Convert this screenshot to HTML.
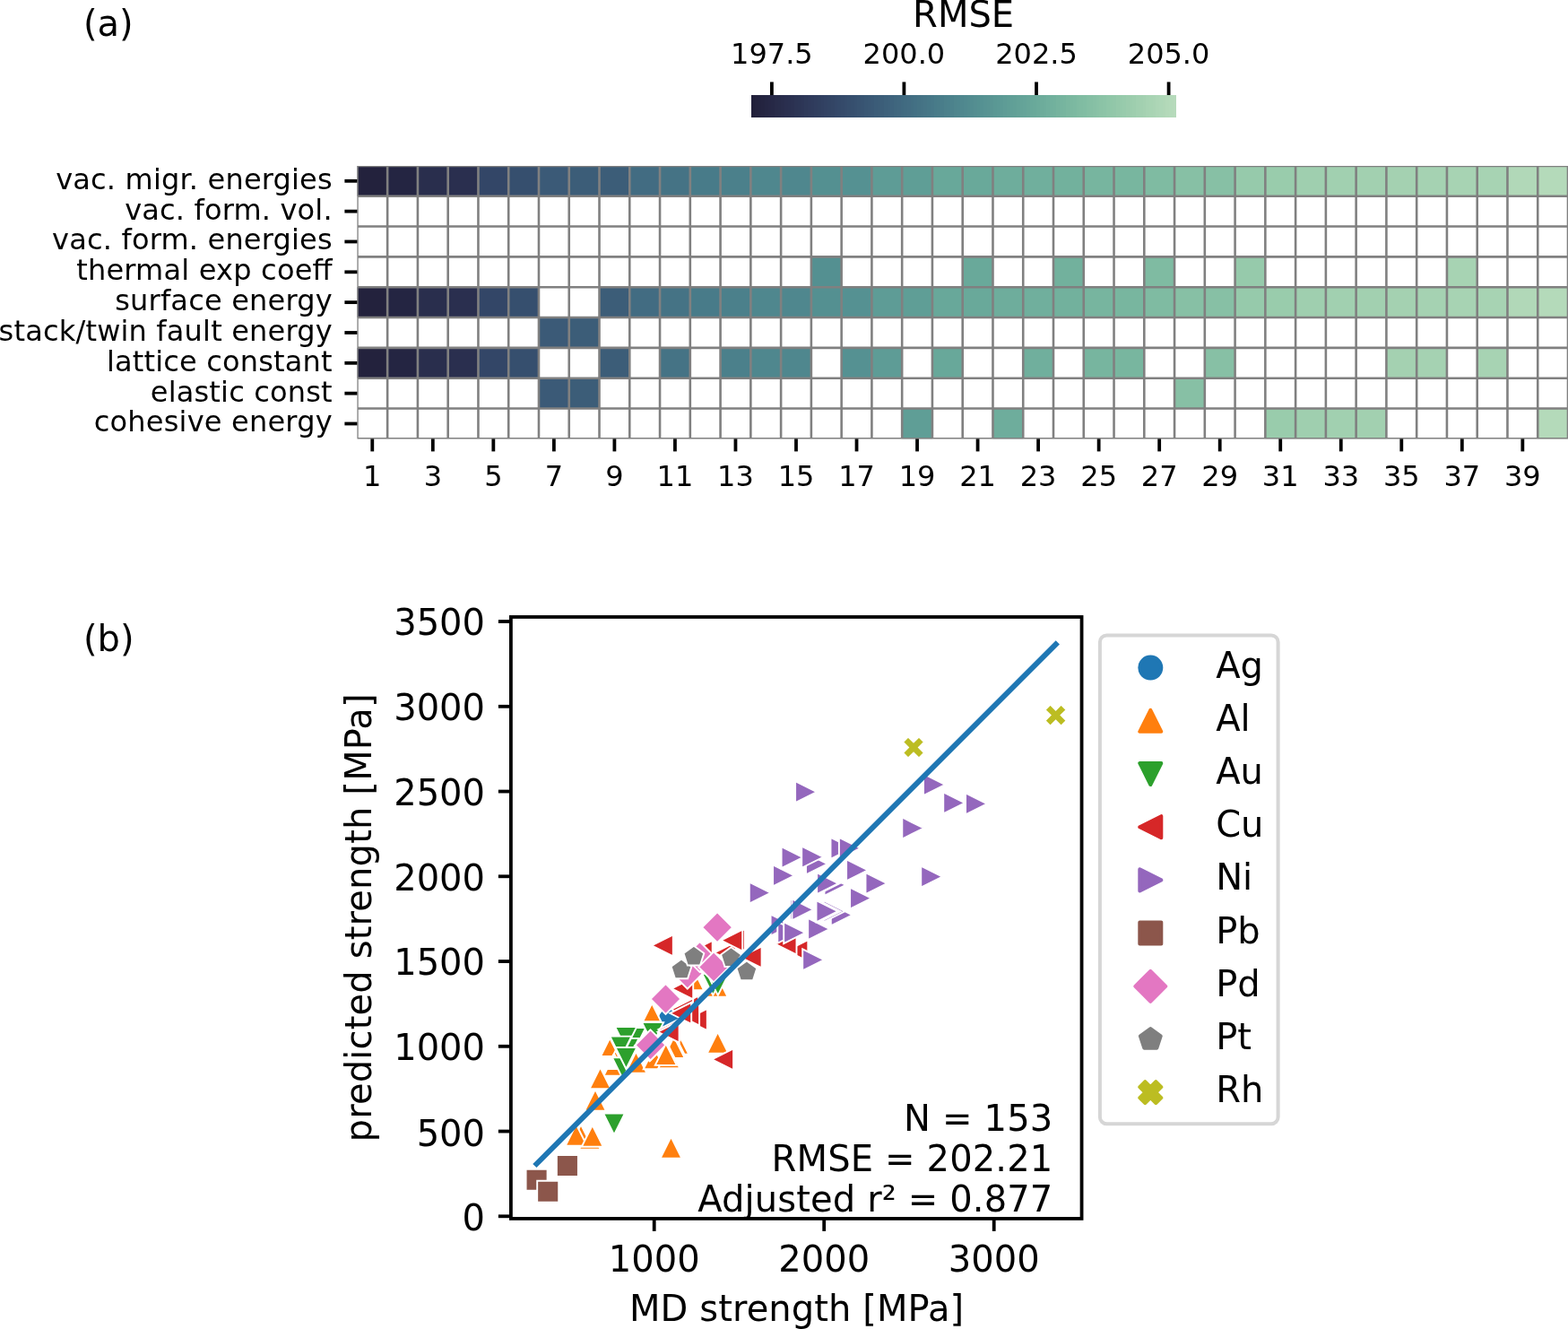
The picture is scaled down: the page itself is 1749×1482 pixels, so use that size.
<!DOCTYPE html>
<html lang="en"><head><meta charset="utf-8"><title>Figure</title>
<style>html,body{margin:0;padding:0;background:#fff}svg{display:block}</style></head>
<body>
<svg width="1749" height="1482" viewBox="0 0 1749 1482" font-family='"DejaVu Sans","Liberation Sans",sans-serif' fill="#000">
<rect x="0" y="0" width="1749" height="1482" fill="#fff"/>
<defs><clipPath id="hclip"><rect x="398.4" y="184.9" width="1350.6" height="304.5"/></clipPath><clipPath id="sclip"><rect x="569.9" y="688.0" width="636.65" height="670.9000000000001"/></clipPath></defs>
<text x="93.0" y="40.2" font-size="40">(a)</text>
<text x="93.0" y="726.2" font-size="40">(b)</text>
<g shape-rendering="crispEdges">
<rect x="838.10" y="106.0" width="4.30" height="24.9" fill="#21203a"/>
<rect x="841.80" y="106.0" width="4.30" height="24.9" fill="#23223d"/>
<rect x="845.50" y="106.0" width="4.30" height="24.9" fill="#23233f"/>
<rect x="849.20" y="106.0" width="4.30" height="24.9" fill="#242440"/>
<rect x="852.89" y="106.0" width="4.30" height="24.9" fill="#252643"/>
<rect x="856.59" y="106.0" width="4.30" height="24.9" fill="#262745"/>
<rect x="860.29" y="106.0" width="4.30" height="24.9" fill="#262846"/>
<rect x="863.99" y="106.0" width="4.30" height="24.9" fill="#282b49"/>
<rect x="867.69" y="106.0" width="4.30" height="24.9" fill="#282c4a"/>
<rect x="871.39" y="106.0" width="4.30" height="24.9" fill="#292d4c"/>
<rect x="875.08" y="106.0" width="4.30" height="24.9" fill="#2a2f4f"/>
<rect x="878.78" y="106.0" width="4.30" height="24.9" fill="#2a3050"/>
<rect x="882.48" y="106.0" width="4.30" height="24.9" fill="#2b3151"/>
<rect x="886.18" y="106.0" width="4.30" height="24.9" fill="#2c3454"/>
<rect x="889.88" y="106.0" width="4.30" height="24.9" fill="#2c3555"/>
<rect x="893.58" y="106.0" width="4.30" height="24.9" fill="#2d3657"/>
<rect x="897.27" y="106.0" width="4.30" height="24.9" fill="#2e3959"/>
<rect x="900.97" y="106.0" width="4.30" height="24.9" fill="#2f3a5b"/>
<rect x="904.67" y="106.0" width="4.30" height="24.9" fill="#2f3b5c"/>
<rect x="908.37" y="106.0" width="4.30" height="24.9" fill="#303d5e"/>
<rect x="912.07" y="106.0" width="4.30" height="24.9" fill="#303f5f"/>
<rect x="915.77" y="106.0" width="4.30" height="24.9" fill="#314061"/>
<rect x="919.47" y="106.0" width="4.30" height="24.9" fill="#324263"/>
<rect x="923.16" y="106.0" width="4.30" height="24.9" fill="#324464"/>
<rect x="926.86" y="106.0" width="4.30" height="24.9" fill="#334565"/>
<rect x="930.56" y="106.0" width="4.30" height="24.9" fill="#344768"/>
<rect x="934.26" y="106.0" width="4.30" height="24.9" fill="#344969"/>
<rect x="937.96" y="106.0" width="4.30" height="24.9" fill="#354a6a"/>
<rect x="941.66" y="106.0" width="4.30" height="24.9" fill="#364c6c"/>
<rect x="945.35" y="106.0" width="4.30" height="24.9" fill="#364e6d"/>
<rect x="949.05" y="106.0" width="4.30" height="24.9" fill="#364f6e"/>
<rect x="952.75" y="106.0" width="4.30" height="24.9" fill="#375170"/>
<rect x="956.45" y="106.0" width="4.30" height="24.9" fill="#385371"/>
<rect x="960.15" y="106.0" width="4.30" height="24.9" fill="#385472"/>
<rect x="963.85" y="106.0" width="4.30" height="24.9" fill="#395774"/>
<rect x="967.55" y="106.0" width="4.30" height="24.9" fill="#3a5875"/>
<rect x="971.24" y="106.0" width="4.30" height="24.9" fill="#3a5976"/>
<rect x="974.94" y="106.0" width="4.30" height="24.9" fill="#3b5c78"/>
<rect x="978.64" y="106.0" width="4.30" height="24.9" fill="#3c5d78"/>
<rect x="982.34" y="106.0" width="4.30" height="24.9" fill="#3c5e79"/>
<rect x="986.04" y="106.0" width="4.30" height="24.9" fill="#3d617b"/>
<rect x="989.74" y="106.0" width="4.30" height="24.9" fill="#3e627c"/>
<rect x="993.43" y="106.0" width="4.30" height="24.9" fill="#3e637d"/>
<rect x="997.13" y="106.0" width="4.30" height="24.9" fill="#3f667e"/>
<rect x="1000.83" y="106.0" width="4.30" height="24.9" fill="#40677f"/>
<rect x="1004.53" y="106.0" width="4.30" height="24.9" fill="#406980"/>
<rect x="1008.23" y="106.0" width="4.30" height="24.9" fill="#416b81"/>
<rect x="1011.93" y="106.0" width="4.30" height="24.9" fill="#426c82"/>
<rect x="1015.62" y="106.0" width="4.30" height="24.9" fill="#426e82"/>
<rect x="1019.32" y="106.0" width="4.30" height="24.9" fill="#437084"/>
<rect x="1023.02" y="106.0" width="4.30" height="24.9" fill="#447284"/>
<rect x="1026.72" y="106.0" width="4.30" height="24.9" fill="#457385"/>
<rect x="1030.42" y="106.0" width="4.30" height="24.9" fill="#467586"/>
<rect x="1034.12" y="106.0" width="4.30" height="24.9" fill="#467787"/>
<rect x="1037.82" y="106.0" width="4.30" height="24.9" fill="#477888"/>
<rect x="1041.51" y="106.0" width="4.30" height="24.9" fill="#487b89"/>
<rect x="1045.21" y="106.0" width="4.30" height="24.9" fill="#497c89"/>
<rect x="1048.91" y="106.0" width="4.30" height="24.9" fill="#497d8a"/>
<rect x="1052.61" y="106.0" width="4.30" height="24.9" fill="#4b808b"/>
<rect x="1056.31" y="106.0" width="4.30" height="24.9" fill="#4b818c"/>
<rect x="1060.01" y="106.0" width="4.30" height="24.9" fill="#4c828c"/>
<rect x="1063.70" y="106.0" width="4.30" height="24.9" fill="#4e858d"/>
<rect x="1067.40" y="106.0" width="4.30" height="24.9" fill="#4e868e"/>
<rect x="1071.10" y="106.0" width="4.30" height="24.9" fill="#4f878e"/>
<rect x="1074.80" y="106.0" width="4.30" height="24.9" fill="#50898f"/>
<rect x="1078.50" y="106.0" width="4.30" height="24.9" fill="#518b8f"/>
<rect x="1082.20" y="106.0" width="4.30" height="24.9" fill="#528c90"/>
<rect x="1085.90" y="106.0" width="4.30" height="24.9" fill="#548e91"/>
<rect x="1089.59" y="106.0" width="4.30" height="24.9" fill="#549091"/>
<rect x="1093.29" y="106.0" width="4.30" height="24.9" fill="#559192"/>
<rect x="1096.99" y="106.0" width="4.30" height="24.9" fill="#579393"/>
<rect x="1100.69" y="106.0" width="4.30" height="24.9" fill="#589493"/>
<rect x="1104.39" y="106.0" width="4.30" height="24.9" fill="#599593"/>
<rect x="1108.09" y="106.0" width="4.30" height="24.9" fill="#5a9894"/>
<rect x="1111.78" y="106.0" width="4.30" height="24.9" fill="#5b9995"/>
<rect x="1115.48" y="106.0" width="4.30" height="24.9" fill="#5c9a95"/>
<rect x="1119.18" y="106.0" width="4.30" height="24.9" fill="#5e9c96"/>
<rect x="1122.88" y="106.0" width="4.30" height="24.9" fill="#5f9e96"/>
<rect x="1126.58" y="106.0" width="4.30" height="24.9" fill="#609f97"/>
<rect x="1130.28" y="106.0" width="4.30" height="24.9" fill="#61a097"/>
<rect x="1133.97" y="106.0" width="4.30" height="24.9" fill="#63a298"/>
<rect x="1137.67" y="106.0" width="4.30" height="24.9" fill="#64a398"/>
<rect x="1141.37" y="106.0" width="4.30" height="24.9" fill="#65a499"/>
<rect x="1145.07" y="106.0" width="4.30" height="24.9" fill="#67a699"/>
<rect x="1148.77" y="106.0" width="4.30" height="24.9" fill="#68a89a"/>
<rect x="1152.47" y="106.0" width="4.30" height="24.9" fill="#69a99a"/>
<rect x="1156.17" y="106.0" width="4.30" height="24.9" fill="#6bab9b"/>
<rect x="1159.86" y="106.0" width="4.30" height="24.9" fill="#6dac9b"/>
<rect x="1163.56" y="106.0" width="4.30" height="24.9" fill="#6ead9c"/>
<rect x="1167.26" y="106.0" width="4.30" height="24.9" fill="#70af9d"/>
<rect x="1170.96" y="106.0" width="4.30" height="24.9" fill="#71b09d"/>
<rect x="1174.66" y="106.0" width="4.30" height="24.9" fill="#72b19d"/>
<rect x="1178.36" y="106.0" width="4.30" height="24.9" fill="#75b39e"/>
<rect x="1182.05" y="106.0" width="4.30" height="24.9" fill="#76b49f"/>
<rect x="1185.75" y="106.0" width="4.30" height="24.9" fill="#77b59f"/>
<rect x="1189.45" y="106.0" width="4.30" height="24.9" fill="#7ab7a0"/>
<rect x="1193.15" y="106.0" width="4.30" height="24.9" fill="#7bb8a0"/>
<rect x="1196.85" y="106.0" width="4.30" height="24.9" fill="#7cb9a1"/>
<rect x="1200.55" y="106.0" width="4.30" height="24.9" fill="#7fbba2"/>
<rect x="1204.25" y="106.0" width="4.30" height="24.9" fill="#80bca2"/>
<rect x="1207.94" y="106.0" width="4.30" height="24.9" fill="#81bda3"/>
<rect x="1211.64" y="106.0" width="4.30" height="24.9" fill="#84bfa4"/>
<rect x="1215.34" y="106.0" width="4.30" height="24.9" fill="#85bfa4"/>
<rect x="1219.04" y="106.0" width="4.30" height="24.9" fill="#87c0a5"/>
<rect x="1222.74" y="106.0" width="4.30" height="24.9" fill="#89c2a6"/>
<rect x="1226.44" y="106.0" width="4.30" height="24.9" fill="#8bc3a6"/>
<rect x="1230.13" y="106.0" width="4.30" height="24.9" fill="#8cc4a7"/>
<rect x="1233.83" y="106.0" width="4.30" height="24.9" fill="#8fc6a8"/>
<rect x="1237.53" y="106.0" width="4.30" height="24.9" fill="#90c7a8"/>
<rect x="1241.23" y="106.0" width="4.30" height="24.9" fill="#92c7a9"/>
<rect x="1244.93" y="106.0" width="4.30" height="24.9" fill="#95c9aa"/>
<rect x="1248.63" y="106.0" width="4.30" height="24.9" fill="#96caab"/>
<rect x="1252.33" y="106.0" width="4.30" height="24.9" fill="#98cbac"/>
<rect x="1256.02" y="106.0" width="4.30" height="24.9" fill="#9bccad"/>
<rect x="1259.72" y="106.0" width="4.30" height="24.9" fill="#9ccdad"/>
<rect x="1263.42" y="106.0" width="4.30" height="24.9" fill="#9eceae"/>
<rect x="1267.12" y="106.0" width="4.30" height="24.9" fill="#a1d0b0"/>
<rect x="1270.82" y="106.0" width="4.30" height="24.9" fill="#a2d0b0"/>
<rect x="1274.52" y="106.0" width="4.30" height="24.9" fill="#a4d1b1"/>
<rect x="1278.21" y="106.0" width="4.30" height="24.9" fill="#a7d3b3"/>
<rect x="1281.91" y="106.0" width="4.30" height="24.9" fill="#a8d4b3"/>
<rect x="1285.61" y="106.0" width="4.30" height="24.9" fill="#aad4b4"/>
<rect x="1289.31" y="106.0" width="4.30" height="24.9" fill="#add6b6"/>
<rect x="1293.01" y="106.0" width="4.30" height="24.9" fill="#aed7b7"/>
<rect x="1296.71" y="106.0" width="4.30" height="24.9" fill="#b0d7b7"/>
<rect x="1300.40" y="106.0" width="4.30" height="24.9" fill="#b3d9b9"/>
<rect x="1304.10" y="106.0" width="4.30" height="24.9" fill="#b4daba"/>
<rect x="1307.80" y="106.0" width="3.70" height="24.9" fill="#b6dabb"/>
</g>
<text x="1074.6" y="30.0" font-size="40" text-anchor="middle">RMSE</text>
<line x1="860.9" x2="860.9" y1="91.4" y2="106" stroke="#000" stroke-width="3.8"/>
<text x="860.9" y="71.3" font-size="32" text-anchor="middle">197.5</text>
<line x1="1008.4" x2="1008.4" y1="91.4" y2="106" stroke="#000" stroke-width="3.8"/>
<text x="1008.4" y="71.3" font-size="32" text-anchor="middle">200.0</text>
<line x1="1156.0" x2="1156.0" y1="91.4" y2="106" stroke="#000" stroke-width="3.8"/>
<text x="1156.0" y="71.3" font-size="32" text-anchor="middle">202.5</text>
<line x1="1303.6" x2="1303.6" y1="91.4" y2="106" stroke="#000" stroke-width="3.8"/>
<text x="1303.6" y="71.3" font-size="32" text-anchor="middle">205.0</text>
<g clip-path="url(#hclip)">
<rect x="398.40" y="184.90" width="33.77" height="33.83" fill="#23223d"/>
<rect x="432.16" y="184.90" width="33.77" height="33.83" fill="#242542"/>
<rect x="465.93" y="184.90" width="33.77" height="33.83" fill="#292e4d"/>
<rect x="499.69" y="184.90" width="33.77" height="33.83" fill="#2a2f4f"/>
<rect x="533.46" y="184.90" width="33.77" height="33.83" fill="#334667"/>
<rect x="567.22" y="184.90" width="33.77" height="33.83" fill="#364f6e"/>
<rect x="600.99" y="184.90" width="33.77" height="33.83" fill="#3b5a77"/>
<rect x="634.75" y="184.90" width="33.77" height="33.83" fill="#3c5d78"/>
<rect x="668.52" y="184.90" width="33.77" height="33.83" fill="#3c5d78"/>
<rect x="702.28" y="184.90" width="33.77" height="33.83" fill="#426c82"/>
<rect x="736.05" y="184.90" width="33.77" height="33.83" fill="#457385"/>
<rect x="769.82" y="184.90" width="33.77" height="33.83" fill="#487b89"/>
<rect x="803.58" y="184.90" width="33.77" height="33.83" fill="#4b808b"/>
<rect x="837.35" y="184.90" width="33.77" height="33.83" fill="#4f878e"/>
<rect x="871.11" y="184.90" width="33.77" height="33.83" fill="#4f878e"/>
<rect x="904.88" y="184.90" width="33.77" height="33.83" fill="#549091"/>
<rect x="938.64" y="184.90" width="33.77" height="33.83" fill="#559192"/>
<rect x="972.40" y="184.90" width="33.77" height="33.83" fill="#5e9c96"/>
<rect x="1006.17" y="184.90" width="33.77" height="33.83" fill="#5f9e96"/>
<rect x="1039.93" y="184.90" width="33.77" height="33.83" fill="#68a89a"/>
<rect x="1073.70" y="184.90" width="33.77" height="33.83" fill="#69a99a"/>
<rect x="1107.47" y="184.90" width="33.77" height="33.83" fill="#6ead9c"/>
<rect x="1141.23" y="184.90" width="33.77" height="33.83" fill="#70af9d"/>
<rect x="1174.99" y="184.90" width="33.77" height="33.83" fill="#72b19d"/>
<rect x="1208.76" y="184.90" width="33.77" height="33.83" fill="#77b59f"/>
<rect x="1242.53" y="184.90" width="33.77" height="33.83" fill="#78b69f"/>
<rect x="1276.29" y="184.90" width="33.77" height="33.83" fill="#7fbba2"/>
<rect x="1310.05" y="184.90" width="33.77" height="33.83" fill="#87c0a5"/>
<rect x="1343.82" y="184.90" width="33.77" height="33.83" fill="#87c0a5"/>
<rect x="1377.59" y="184.90" width="33.77" height="33.83" fill="#96caab"/>
<rect x="1411.35" y="184.90" width="33.77" height="33.83" fill="#99ccac"/>
<rect x="1445.11" y="184.90" width="33.77" height="33.83" fill="#9fcfaf"/>
<rect x="1478.88" y="184.90" width="33.77" height="33.83" fill="#a1d0b0"/>
<rect x="1512.64" y="184.90" width="33.77" height="33.83" fill="#a2d0b0"/>
<rect x="1546.41" y="184.90" width="33.77" height="33.83" fill="#a4d1b1"/>
<rect x="1580.18" y="184.90" width="33.77" height="33.83" fill="#a5d2b2"/>
<rect x="1613.94" y="184.90" width="33.77" height="33.83" fill="#a7d3b3"/>
<rect x="1647.70" y="184.90" width="33.77" height="33.83" fill="#a7d3b3"/>
<rect x="1681.47" y="184.90" width="33.77" height="33.83" fill="#b1d8b8"/>
<rect x="1715.24" y="184.90" width="33.77" height="33.83" fill="#b4daba"/>
<rect x="904.88" y="286.40" width="33.77" height="33.83" fill="#549091"/>
<rect x="1073.70" y="286.40" width="33.77" height="33.83" fill="#69a99a"/>
<rect x="1174.99" y="286.40" width="33.77" height="33.83" fill="#72b19d"/>
<rect x="1276.29" y="286.40" width="33.77" height="33.83" fill="#7fbba2"/>
<rect x="1377.59" y="286.40" width="33.77" height="33.83" fill="#96caab"/>
<rect x="1613.94" y="286.40" width="33.77" height="33.83" fill="#a7d3b3"/>
<rect x="398.40" y="320.23" width="33.77" height="33.83" fill="#23223d"/>
<rect x="432.16" y="320.23" width="33.77" height="33.83" fill="#242542"/>
<rect x="465.93" y="320.23" width="33.77" height="33.83" fill="#292e4d"/>
<rect x="499.69" y="320.23" width="33.77" height="33.83" fill="#2a2f4f"/>
<rect x="533.46" y="320.23" width="33.77" height="33.83" fill="#334667"/>
<rect x="567.22" y="320.23" width="33.77" height="33.83" fill="#364f6e"/>
<rect x="668.52" y="320.23" width="33.77" height="33.83" fill="#3c5d78"/>
<rect x="702.28" y="320.23" width="33.77" height="33.83" fill="#426c82"/>
<rect x="736.05" y="320.23" width="33.77" height="33.83" fill="#457385"/>
<rect x="769.82" y="320.23" width="33.77" height="33.83" fill="#487b89"/>
<rect x="803.58" y="320.23" width="33.77" height="33.83" fill="#4b808b"/>
<rect x="837.35" y="320.23" width="33.77" height="33.83" fill="#4f878e"/>
<rect x="871.11" y="320.23" width="33.77" height="33.83" fill="#4f878e"/>
<rect x="904.88" y="320.23" width="33.77" height="33.83" fill="#549091"/>
<rect x="938.64" y="320.23" width="33.77" height="33.83" fill="#559192"/>
<rect x="972.40" y="320.23" width="33.77" height="33.83" fill="#5e9c96"/>
<rect x="1006.17" y="320.23" width="33.77" height="33.83" fill="#5f9e96"/>
<rect x="1039.93" y="320.23" width="33.77" height="33.83" fill="#68a89a"/>
<rect x="1073.70" y="320.23" width="33.77" height="33.83" fill="#69a99a"/>
<rect x="1107.47" y="320.23" width="33.77" height="33.83" fill="#6ead9c"/>
<rect x="1141.23" y="320.23" width="33.77" height="33.83" fill="#70af9d"/>
<rect x="1174.99" y="320.23" width="33.77" height="33.83" fill="#72b19d"/>
<rect x="1208.76" y="320.23" width="33.77" height="33.83" fill="#77b59f"/>
<rect x="1242.53" y="320.23" width="33.77" height="33.83" fill="#78b69f"/>
<rect x="1276.29" y="320.23" width="33.77" height="33.83" fill="#7fbba2"/>
<rect x="1310.05" y="320.23" width="33.77" height="33.83" fill="#87c0a5"/>
<rect x="1343.82" y="320.23" width="33.77" height="33.83" fill="#87c0a5"/>
<rect x="1377.59" y="320.23" width="33.77" height="33.83" fill="#96caab"/>
<rect x="1411.35" y="320.23" width="33.77" height="33.83" fill="#99ccac"/>
<rect x="1445.11" y="320.23" width="33.77" height="33.83" fill="#9fcfaf"/>
<rect x="1478.88" y="320.23" width="33.77" height="33.83" fill="#a1d0b0"/>
<rect x="1512.64" y="320.23" width="33.77" height="33.83" fill="#a2d0b0"/>
<rect x="1546.41" y="320.23" width="33.77" height="33.83" fill="#a4d1b1"/>
<rect x="1580.18" y="320.23" width="33.77" height="33.83" fill="#a5d2b2"/>
<rect x="1613.94" y="320.23" width="33.77" height="33.83" fill="#a7d3b3"/>
<rect x="1647.70" y="320.23" width="33.77" height="33.83" fill="#a7d3b3"/>
<rect x="1681.47" y="320.23" width="33.77" height="33.83" fill="#b1d8b8"/>
<rect x="1715.24" y="320.23" width="33.77" height="33.83" fill="#b4daba"/>
<rect x="600.99" y="354.07" width="33.77" height="33.83" fill="#3b5a77"/>
<rect x="634.75" y="354.07" width="33.77" height="33.83" fill="#3c5d78"/>
<rect x="398.40" y="387.90" width="33.77" height="33.83" fill="#23223d"/>
<rect x="432.16" y="387.90" width="33.77" height="33.83" fill="#242542"/>
<rect x="465.93" y="387.90" width="33.77" height="33.83" fill="#292e4d"/>
<rect x="499.69" y="387.90" width="33.77" height="33.83" fill="#2a2f4f"/>
<rect x="533.46" y="387.90" width="33.77" height="33.83" fill="#334667"/>
<rect x="567.22" y="387.90" width="33.77" height="33.83" fill="#364f6e"/>
<rect x="668.52" y="387.90" width="33.77" height="33.83" fill="#3c5d78"/>
<rect x="736.05" y="387.90" width="33.77" height="33.83" fill="#457385"/>
<rect x="803.58" y="387.90" width="33.77" height="33.83" fill="#4b808b"/>
<rect x="837.35" y="387.90" width="33.77" height="33.83" fill="#4f878e"/>
<rect x="871.11" y="387.90" width="33.77" height="33.83" fill="#4f878e"/>
<rect x="938.64" y="387.90" width="33.77" height="33.83" fill="#559192"/>
<rect x="972.40" y="387.90" width="33.77" height="33.83" fill="#5e9c96"/>
<rect x="1039.93" y="387.90" width="33.77" height="33.83" fill="#68a89a"/>
<rect x="1141.23" y="387.90" width="33.77" height="33.83" fill="#70af9d"/>
<rect x="1208.76" y="387.90" width="33.77" height="33.83" fill="#77b59f"/>
<rect x="1242.53" y="387.90" width="33.77" height="33.83" fill="#78b69f"/>
<rect x="1343.82" y="387.90" width="33.77" height="33.83" fill="#87c0a5"/>
<rect x="1546.41" y="387.90" width="33.77" height="33.83" fill="#a4d1b1"/>
<rect x="1580.18" y="387.90" width="33.77" height="33.83" fill="#a5d2b2"/>
<rect x="1647.70" y="387.90" width="33.77" height="33.83" fill="#a7d3b3"/>
<rect x="600.99" y="421.73" width="33.77" height="33.83" fill="#3b5a77"/>
<rect x="634.75" y="421.73" width="33.77" height="33.83" fill="#3c5d78"/>
<rect x="1310.05" y="421.73" width="33.77" height="33.83" fill="#87c0a5"/>
<rect x="1006.17" y="455.57" width="33.77" height="33.83" fill="#5f9e96"/>
<rect x="1107.47" y="455.57" width="33.77" height="33.83" fill="#6ead9c"/>
<rect x="1411.35" y="455.57" width="33.77" height="33.83" fill="#99ccac"/>
<rect x="1445.11" y="455.57" width="33.77" height="33.83" fill="#9fcfaf"/>
<rect x="1478.88" y="455.57" width="33.77" height="33.83" fill="#a1d0b0"/>
<rect x="1512.64" y="455.57" width="33.77" height="33.83" fill="#a2d0b0"/>
<rect x="1715.24" y="455.57" width="33.77" height="33.83" fill="#b4daba"/>
<path d="M398.40 184.9V489.4M432.16 184.9V489.4M465.93 184.9V489.4M499.69 184.9V489.4M533.46 184.9V489.4M567.22 184.9V489.4M600.99 184.9V489.4M634.75 184.9V489.4M668.52 184.9V489.4M702.28 184.9V489.4M736.05 184.9V489.4M769.82 184.9V489.4M803.58 184.9V489.4M837.35 184.9V489.4M871.11 184.9V489.4M904.88 184.9V489.4M938.64 184.9V489.4M972.40 184.9V489.4M1006.17 184.9V489.4M1039.93 184.9V489.4M1073.70 184.9V489.4M1107.47 184.9V489.4M1141.23 184.9V489.4M1174.99 184.9V489.4M1208.76 184.9V489.4M1242.53 184.9V489.4M1276.29 184.9V489.4M1310.05 184.9V489.4M1343.82 184.9V489.4M1377.59 184.9V489.4M1411.35 184.9V489.4M1445.11 184.9V489.4M1478.88 184.9V489.4M1512.64 184.9V489.4M1546.41 184.9V489.4M1580.18 184.9V489.4M1613.94 184.9V489.4M1647.70 184.9V489.4M1681.47 184.9V489.4M1715.24 184.9V489.4M1749.00 184.9V489.4M398.4 184.90H1749.0M398.4 218.73H1749.0M398.4 252.57H1749.0M398.4 286.40H1749.0M398.4 320.23H1749.0M398.4 354.07H1749.0M398.4 387.90H1749.0M398.4 421.73H1749.0M398.4 455.57H1749.0M398.4 489.40H1749.0" stroke="#808080" stroke-width="2.6" fill="none"/>
</g>
<line x1="384.40" x2="398.4" y1="201.82" y2="201.82" stroke="#000" stroke-width="3.8"/>
<text x="370.6" y="210.82" font-size="32" text-anchor="end" textLength="308.4" lengthAdjust="spacing">vac. migr. energies</text>
<line x1="384.40" x2="398.4" y1="235.65" y2="235.65" stroke="#000" stroke-width="3.8"/>
<text x="370.6" y="244.65" font-size="32" text-anchor="end" textLength="231.4" lengthAdjust="spacing">vac. form. vol.</text>
<line x1="384.40" x2="398.4" y1="269.48" y2="269.48" stroke="#000" stroke-width="3.8"/>
<text x="370.6" y="278.48" font-size="32" text-anchor="end" textLength="312.5" lengthAdjust="spacing">vac. form. energies</text>
<line x1="384.40" x2="398.4" y1="303.32" y2="303.32" stroke="#000" stroke-width="3.8"/>
<text x="370.6" y="312.32" font-size="32" text-anchor="end" textLength="285.4" lengthAdjust="spacing">thermal exp coeff</text>
<line x1="384.40" x2="398.4" y1="337.15" y2="337.15" stroke="#000" stroke-width="3.8"/>
<text x="370.6" y="346.15" font-size="32" text-anchor="end" textLength="242.4" lengthAdjust="spacing">surface energy</text>
<line x1="384.40" x2="398.4" y1="370.98" y2="370.98" stroke="#000" stroke-width="3.8"/>
<text x="370.6" y="379.98" font-size="32" text-anchor="end" textLength="372.0" lengthAdjust="spacing">stack/twin fault energy</text>
<line x1="384.40" x2="398.4" y1="404.82" y2="404.82" stroke="#000" stroke-width="3.8"/>
<text x="370.6" y="413.82" font-size="32" text-anchor="end" textLength="251.6" lengthAdjust="spacing">lattice constant</text>
<line x1="384.40" x2="398.4" y1="438.65" y2="438.65" stroke="#000" stroke-width="3.8"/>
<text x="370.6" y="447.65" font-size="32" text-anchor="end" textLength="202.8" lengthAdjust="spacing">elastic const</text>
<line x1="384.40" x2="398.4" y1="472.48" y2="472.48" stroke="#000" stroke-width="3.8"/>
<text x="370.6" y="481.48" font-size="32" text-anchor="end" textLength="265.8" lengthAdjust="spacing">cohesive energy</text>
<line x1="415.28" x2="415.28" y1="489.4" y2="503.40" stroke="#000" stroke-width="3.8"/>
<text x="415.28" y="542.0" font-size="32" text-anchor="middle">1</text>
<line x1="482.81" x2="482.81" y1="489.4" y2="503.40" stroke="#000" stroke-width="3.8"/>
<text x="482.81" y="542.0" font-size="32" text-anchor="middle">3</text>
<line x1="550.34" x2="550.34" y1="489.4" y2="503.40" stroke="#000" stroke-width="3.8"/>
<text x="550.34" y="542.0" font-size="32" text-anchor="middle">5</text>
<line x1="617.87" x2="617.87" y1="489.4" y2="503.40" stroke="#000" stroke-width="3.8"/>
<text x="617.87" y="542.0" font-size="32" text-anchor="middle">7</text>
<line x1="685.40" x2="685.40" y1="489.4" y2="503.40" stroke="#000" stroke-width="3.8"/>
<text x="685.40" y="542.0" font-size="32" text-anchor="middle">9</text>
<line x1="752.93" x2="752.93" y1="489.4" y2="503.40" stroke="#000" stroke-width="3.8"/>
<text x="752.93" y="542.0" font-size="32" text-anchor="middle">11</text>
<line x1="820.46" x2="820.46" y1="489.4" y2="503.40" stroke="#000" stroke-width="3.8"/>
<text x="820.46" y="542.0" font-size="32" text-anchor="middle">13</text>
<line x1="887.99" x2="887.99" y1="489.4" y2="503.40" stroke="#000" stroke-width="3.8"/>
<text x="887.99" y="542.0" font-size="32" text-anchor="middle">15</text>
<line x1="955.52" x2="955.52" y1="489.4" y2="503.40" stroke="#000" stroke-width="3.8"/>
<text x="955.52" y="542.0" font-size="32" text-anchor="middle">17</text>
<line x1="1023.05" x2="1023.05" y1="489.4" y2="503.40" stroke="#000" stroke-width="3.8"/>
<text x="1023.05" y="542.0" font-size="32" text-anchor="middle">19</text>
<line x1="1090.58" x2="1090.58" y1="489.4" y2="503.40" stroke="#000" stroke-width="3.8"/>
<text x="1090.58" y="542.0" font-size="32" text-anchor="middle">21</text>
<line x1="1158.11" x2="1158.11" y1="489.4" y2="503.40" stroke="#000" stroke-width="3.8"/>
<text x="1158.11" y="542.0" font-size="32" text-anchor="middle">23</text>
<line x1="1225.64" x2="1225.64" y1="489.4" y2="503.40" stroke="#000" stroke-width="3.8"/>
<text x="1225.64" y="542.0" font-size="32" text-anchor="middle">25</text>
<line x1="1293.17" x2="1293.17" y1="489.4" y2="503.40" stroke="#000" stroke-width="3.8"/>
<text x="1293.17" y="542.0" font-size="32" text-anchor="middle">27</text>
<line x1="1360.70" x2="1360.70" y1="489.4" y2="503.40" stroke="#000" stroke-width="3.8"/>
<text x="1360.70" y="542.0" font-size="32" text-anchor="middle">29</text>
<line x1="1428.23" x2="1428.23" y1="489.4" y2="503.40" stroke="#000" stroke-width="3.8"/>
<text x="1428.23" y="542.0" font-size="32" text-anchor="middle">31</text>
<line x1="1495.76" x2="1495.76" y1="489.4" y2="503.40" stroke="#000" stroke-width="3.8"/>
<text x="1495.76" y="542.0" font-size="32" text-anchor="middle">33</text>
<line x1="1563.29" x2="1563.29" y1="489.4" y2="503.40" stroke="#000" stroke-width="3.8"/>
<text x="1563.29" y="542.0" font-size="32" text-anchor="middle">35</text>
<line x1="1630.82" x2="1630.82" y1="489.4" y2="503.40" stroke="#000" stroke-width="3.8"/>
<text x="1630.82" y="542.0" font-size="32" text-anchor="middle">37</text>
<line x1="1698.35" x2="1698.35" y1="489.4" y2="503.40" stroke="#000" stroke-width="3.8"/>
<text x="1698.35" y="542.0" font-size="32" text-anchor="middle">39</text>
<g clip-path="url(#sclip)">
<circle cx="746.00" cy="1136.00" r="12.00" fill="#1f77b4" stroke="#fff" stroke-width="1.92"/>
<path d="M586.60 1303.80L610.60 1303.80L610.60 1327.80L586.60 1327.80Z" fill="#8c564b" stroke="#fff" stroke-width="1.92" stroke-linejoin="miter"/>
<path d="M599.20 1316.80L623.20 1316.80L623.20 1340.80L599.20 1340.80Z" fill="#8c564b" stroke="#fff" stroke-width="1.92" stroke-linejoin="miter"/>
<path d="M620.90 1288.00L644.90 1288.00L644.90 1312.00L620.90 1312.00Z" fill="#8c564b" stroke="#fff" stroke-width="1.92" stroke-linejoin="miter"/>
<path d="M657.90 1257.80L645.90 1281.80L669.90 1281.80Z" fill="#ff7f0e" stroke="#fff" stroke-width="1.92" stroke-linejoin="miter"/>
<path d="M648.00 1254.00L636.00 1278.00L660.00 1278.00Z" fill="#ff7f0e" stroke="#fff" stroke-width="1.92" stroke-linejoin="miter"/>
<path d="M642.70 1253.70L630.70 1277.70L654.70 1277.70Z" fill="#ff7f0e" stroke="#fff" stroke-width="1.92" stroke-linejoin="miter"/>
<path d="M660.80 1254.70L648.80 1278.70L672.80 1278.70Z" fill="#ff7f0e" stroke="#fff" stroke-width="1.92" stroke-linejoin="miter"/>
<path d="M664.00 1214.70L652.00 1238.70L676.00 1238.70Z" fill="#ff7f0e" stroke="#fff" stroke-width="1.92" stroke-linejoin="miter"/>
<path d="M685.00 1265.50L673.00 1241.50L697.00 1241.50Z" fill="#2ca02c" stroke="#fff" stroke-width="1.92" stroke-linejoin="miter"/>
<path d="M748.50 1267.70L736.50 1291.70L760.50 1291.70Z" fill="#ff7f0e" stroke="#fff" stroke-width="1.92" stroke-linejoin="miter"/>
<path d="M680.20 1157.55L669.95 1178.05L690.45 1178.05Z" fill="#ff7f0e" stroke="#fff" stroke-width="1.92" stroke-linejoin="miter"/>
<path d="M708.30 1170.00L696.30 1146.00L720.30 1146.00Z" fill="#2ca02c" stroke="#fff" stroke-width="1.92" stroke-linejoin="miter"/>
<path d="M700.60 1181.90L688.60 1157.90L712.60 1157.90Z" fill="#2ca02c" stroke="#fff" stroke-width="1.92" stroke-linejoin="miter"/>
<path d="M698.20 1169.10L686.20 1145.10L710.20 1145.10Z" fill="#2ca02c" stroke="#fff" stroke-width="1.92" stroke-linejoin="miter"/>
<path d="M692.40 1179.60L680.40 1155.60L704.40 1155.60Z" fill="#2ca02c" stroke="#fff" stroke-width="1.92" stroke-linejoin="miter"/>
<path d="M686.60 1171.50L674.60 1195.50L698.60 1195.50Z" fill="#ff7f0e" stroke="#fff" stroke-width="1.92" stroke-linejoin="miter"/>
<path d="M685.30 1175.70L673.30 1199.70L697.30 1199.70Z" fill="#ff7f0e" stroke="#fff" stroke-width="1.92" stroke-linejoin="miter"/>
<path d="M683.60 1177.10L676.10 1192.10L691.10 1192.10Z" fill="#fff" stroke="#fff" stroke-width="1.92" stroke-linejoin="miter"/>
<path d="M694.80 1203.20L682.80 1179.20L706.80 1179.20Z" fill="#2ca02c" stroke="#fff" stroke-width="1.92" stroke-linejoin="miter"/>
<path d="M698.40 1192.00L686.40 1168.00L710.40 1168.00Z" fill="#2ca02c" stroke="#fff" stroke-width="1.92" stroke-linejoin="miter"/>
<path d="M709.50 1172.80L697.50 1196.80L721.50 1196.80Z" fill="#ff7f0e" stroke="#fff" stroke-width="1.92" stroke-linejoin="miter"/>
<path d="M669.50 1190.30L657.50 1214.30L681.50 1214.30Z" fill="#ff7f0e" stroke="#fff" stroke-width="1.92" stroke-linejoin="miter"/>
<path d="M727.20 1118.75L716.95 1139.25L737.45 1139.25Z" fill="#ff7f0e" stroke="#fff" stroke-width="1.92" stroke-linejoin="miter"/>
<path d="M728.10 1164.10L716.10 1140.10L740.10 1140.10Z" fill="#2ca02c" stroke="#fff" stroke-width="1.92" stroke-linejoin="miter"/>
<path d="M729.70 1168.20L717.70 1192.20L741.70 1192.20Z" fill="#ff7f0e" stroke="#fff" stroke-width="1.92" stroke-linejoin="miter"/>
<path d="M724.70 1149.33L741.67 1166.30L724.70 1183.27L707.73 1166.30Z" fill="#e377c2" stroke="#fff" stroke-width="1.92" stroke-linejoin="miter"/>
<path d="M725.60 1148.43L742.57 1165.40L725.60 1182.37L708.63 1165.40Z" fill="#e377c2" stroke="#fff" stroke-width="1.92" stroke-linejoin="miter"/>
<path d="M756.40 1151.80L744.40 1175.80L768.40 1175.80Z" fill="#ff7f0e" stroke="#fff" stroke-width="1.92" stroke-linejoin="miter"/>
<path d="M753.30 1155.60L741.30 1179.60L765.30 1179.60Z" fill="#ff7f0e" stroke="#fff" stroke-width="1.92" stroke-linejoin="miter"/>
<path d="M751.80 1156.00L739.80 1180.00L763.80 1180.00Z" fill="#ff7f0e" stroke="#fff" stroke-width="1.92" stroke-linejoin="miter"/>
<path d="M746.30 1167.30L734.30 1191.30L758.30 1191.30Z" fill="#ff7f0e" stroke="#fff" stroke-width="1.92" stroke-linejoin="miter"/>
<path d="M742.80 1163.90L730.80 1187.90L754.80 1187.90Z" fill="#ff7f0e" stroke="#fff" stroke-width="1.92" stroke-linejoin="miter"/>
<path d="M734.60 1147.90L758.60 1135.90L758.60 1159.90Z" fill="#d62728" stroke="#fff" stroke-width="1.92" stroke-linejoin="miter"/>
<path d="M733.60 1150.65L757.60 1138.65L757.60 1162.65Z" fill="#d62728" stroke="#fff" stroke-width="1.92" stroke-linejoin="miter"/>
<path d="M800.60 1150.70L788.60 1174.70L812.60 1174.70Z" fill="#ff7f0e" stroke="#fff" stroke-width="1.92" stroke-linejoin="miter"/>
<path d="M794.10 1181.30L818.10 1169.30L818.10 1193.30Z" fill="#d62728" stroke="#fff" stroke-width="1.92" stroke-linejoin="miter"/>
<path d="M757.00 1120.50L781.00 1108.50L781.00 1132.50Z" fill="#d62728" stroke="#fff" stroke-width="1.92" stroke-linejoin="miter"/>
<path d="M755.00 1122.70L779.00 1110.70L779.00 1134.70Z" fill="#d62728" stroke="#fff" stroke-width="1.92" stroke-linejoin="miter"/>
<path d="M749.00 1125.50L773.00 1113.50L773.00 1137.50Z" fill="#d62728" stroke="#fff" stroke-width="1.92" stroke-linejoin="miter"/>
<path d="M764.80 1137.00L788.80 1125.00L788.80 1149.00Z" fill="#d62728" stroke="#fff" stroke-width="1.92" stroke-linejoin="miter"/>
<path d="M756.10 1131.50L780.10 1119.50L780.10 1143.50Z" fill="#d62728" stroke="#fff" stroke-width="1.92" stroke-linejoin="miter"/>
<path d="M747.20 1129.80L771.20 1117.80L771.20 1141.80Z" fill="#d62728" stroke="#fff" stroke-width="1.92" stroke-linejoin="miter"/>
<path d="M742.50 1097.03L759.47 1114.00L742.50 1130.97L725.53 1114.00Z" fill="#e377c2" stroke="#fff" stroke-width="1.92" stroke-linejoin="miter"/>
<path d="M773.00 1080.10L761.00 1104.10L785.00 1104.10Z" fill="#ff7f0e" stroke="#fff" stroke-width="1.92" stroke-linejoin="miter"/>
<path d="M799.60 1087.65L787.60 1111.65L811.60 1111.65Z" fill="#ff7f0e" stroke="#fff" stroke-width="1.92" stroke-linejoin="miter"/>
<path d="M795.30 1109.85L783.30 1085.85L807.30 1085.85Z" fill="#2ca02c" stroke="#fff" stroke-width="1.92" stroke-linejoin="miter"/>
<path d="M800.80 1109.85L788.80 1085.85L812.80 1085.85Z" fill="#2ca02c" stroke="#fff" stroke-width="1.92" stroke-linejoin="miter"/>
<path d="M749.20 1102.40L773.20 1090.40L773.20 1114.40Z" fill="#d62728" stroke="#fff" stroke-width="1.92" stroke-linejoin="miter"/>
<path d="M766.80 1068.73L783.77 1085.70L766.80 1102.67L749.83 1085.70Z" fill="#e377c2" stroke="#fff" stroke-width="1.92" stroke-linejoin="miter"/>
<path d="M760.00 1069.50L771.41 1077.79L767.05 1091.21L752.95 1091.21L748.59 1077.79Z" fill="#7f7f7f" stroke="#fff" stroke-width="1.92" stroke-linejoin="miter"/>
<path d="M770.70 1060.90L794.70 1048.90L794.70 1072.90Z" fill="#d62728" stroke="#fff" stroke-width="1.92" stroke-linejoin="miter"/>
<path d="M796.70 1062.40L820.70 1050.40L820.70 1074.40Z" fill="#d62728" stroke="#fff" stroke-width="1.92" stroke-linejoin="miter"/>
<path d="M780.50 1050.03L797.47 1067.00L780.50 1083.97L763.53 1067.00Z" fill="#e377c2" stroke="#fff" stroke-width="1.92" stroke-linejoin="miter"/>
<path d="M773.90 1054.80L785.31 1063.09L780.95 1076.51L766.85 1076.51L762.49 1063.09Z" fill="#7f7f7f" stroke="#fff" stroke-width="1.92" stroke-linejoin="miter"/>
<path d="M796.10 1061.43L813.07 1078.40L796.10 1095.37L779.13 1078.40Z" fill="#e377c2" stroke="#fff" stroke-width="1.92" stroke-linejoin="miter"/>
<path d="M815.50 1056.30L826.91 1064.59L822.55 1078.01L808.45 1078.01L804.09 1064.59Z" fill="#7f7f7f" stroke="#fff" stroke-width="1.92" stroke-linejoin="miter"/>
<path d="M825.60 1067.30L849.60 1055.30L849.60 1079.30Z" fill="#d62728" stroke="#fff" stroke-width="1.92" stroke-linejoin="miter"/>
<path d="M832.90 1071.50L844.31 1079.79L839.95 1093.21L825.85 1093.21L821.49 1079.79Z" fill="#7f7f7f" stroke="#fff" stroke-width="1.92" stroke-linejoin="miter"/>
<path d="M806.80 1048.10L830.80 1036.10L830.80 1060.10Z" fill="#d62728" stroke="#fff" stroke-width="1.92" stroke-linejoin="miter"/>
<path d="M804.20 1048.60L828.20 1036.60L828.20 1060.60Z" fill="#d62728" stroke="#fff" stroke-width="1.92" stroke-linejoin="miter"/>
<path d="M800.10 1017.13L817.07 1034.10L800.10 1051.07L783.13 1034.10Z" fill="#e377c2" stroke="#fff" stroke-width="1.92" stroke-linejoin="miter"/>
<path d="M726.80 1054.30L750.80 1042.30L750.80 1066.30Z" fill="#d62728" stroke="#fff" stroke-width="1.92" stroke-linejoin="miter"/>
<path d="M877.30 1060.10L901.30 1048.10L901.30 1072.10Z" fill="#d62728" stroke="#fff" stroke-width="1.92" stroke-linejoin="miter"/>
<path d="M864.50 1052.50L888.50 1040.50L888.50 1064.50Z" fill="#d62728" stroke="#fff" stroke-width="1.92" stroke-linejoin="miter"/>
<path d="M883.60 1031.60L859.60 1019.60L859.60 1043.60Z" fill="#9467bd" stroke="#fff" stroke-width="1.92" stroke-linejoin="miter"/>
<path d="M891.30 1039.80L867.30 1027.80L867.30 1051.80Z" fill="#9467bd" stroke="#fff" stroke-width="1.92" stroke-linejoin="miter"/>
<path d="M898.20 1040.10L874.20 1028.10L874.20 1052.10Z" fill="#9467bd" stroke="#fff" stroke-width="1.92" stroke-linejoin="miter"/>
<path d="M919.20 1070.30L895.20 1058.30L895.20 1082.30Z" fill="#9467bd" stroke="#fff" stroke-width="1.92" stroke-linejoin="miter"/>
<path d="M925.20 1036.00L901.20 1024.00L901.20 1048.00Z" fill="#9467bd" stroke="#fff" stroke-width="1.92" stroke-linejoin="miter"/>
<path d="M905.10 1014.35L881.10 1002.35L881.10 1026.35Z" fill="#9467bd" stroke="#fff" stroke-width="1.92" stroke-linejoin="miter"/>
<path d="M910.40 1014.35L886.40 1002.35L886.40 1026.35Z" fill="#9467bd" stroke="#fff" stroke-width="1.92" stroke-linejoin="miter"/>
<path d="M907.40 1014.35L883.40 1002.35L883.40 1026.35Z" fill="#9467bd" stroke="#fff" stroke-width="1.92" stroke-linejoin="miter"/>
<path d="M950.80 1020.30L926.80 1008.30L926.80 1032.30Z" fill="#9467bd" stroke="#fff" stroke-width="1.92" stroke-linejoin="miter"/>
<path d="M942.40 1016.25L918.40 1004.25L918.40 1028.25Z" fill="#9467bd" stroke="#fff" stroke-width="1.92" stroke-linejoin="miter"/>
<path d="M937.60 1016.25L913.60 1004.25L913.60 1028.25Z" fill="#9467bd" stroke="#fff" stroke-width="1.92" stroke-linejoin="miter"/>
<path d="M934.50 1016.25L910.50 1004.25L910.50 1028.25Z" fill="#9467bd" stroke="#fff" stroke-width="1.92" stroke-linejoin="miter"/>
<path d="M943.50 986.90L919.50 974.90L919.50 998.90Z" fill="#9467bd" stroke="#fff" stroke-width="1.92" stroke-linejoin="miter"/>
<path d="M937.35 984.65L913.35 972.65L913.35 996.65Z" fill="#9467bd" stroke="#fff" stroke-width="1.92" stroke-linejoin="miter"/>
<path d="M935.15 985.15L911.15 973.15L911.15 997.15Z" fill="#9467bd" stroke="#fff" stroke-width="1.92" stroke-linejoin="miter"/>
<path d="M861.80 995.10L837.80 983.10L837.80 1007.10Z" fill="#9467bd" stroke="#fff" stroke-width="1.92" stroke-linejoin="miter"/>
<path d="M859.80 995.70L835.80 983.70L835.80 1007.70Z" fill="#9467bd" stroke="#fff" stroke-width="1.92" stroke-linejoin="miter"/>
<path d="M886.10 976.40L862.10 964.40L862.10 988.40Z" fill="#9467bd" stroke="#fff" stroke-width="1.92" stroke-linejoin="miter"/>
<path d="M895.60 956.20L871.60 944.20L871.60 968.20Z" fill="#9467bd" stroke="#fff" stroke-width="1.92" stroke-linejoin="miter"/>
<path d="M923.00 963.40L899.00 951.40L899.00 975.40Z" fill="#9467bd" stroke="#fff" stroke-width="1.92" stroke-linejoin="miter"/>
<path d="M918.20 955.75L894.20 943.75L894.20 967.75Z" fill="#9467bd" stroke="#fff" stroke-width="1.92" stroke-linejoin="miter"/>
<path d="M950.50 945.90L926.50 933.90L926.50 957.90Z" fill="#9467bd" stroke="#fff" stroke-width="1.92" stroke-linejoin="miter"/>
<path d="M959.90 945.90L935.90 933.90L935.90 957.90Z" fill="#9467bd" stroke="#fff" stroke-width="1.92" stroke-linejoin="miter"/>
<path d="M968.10 970.30L944.10 958.30L944.10 982.30Z" fill="#9467bd" stroke="#fff" stroke-width="1.92" stroke-linejoin="miter"/>
<path d="M989.50 985.10L965.50 973.10L965.50 997.10Z" fill="#9467bd" stroke="#fff" stroke-width="1.92" stroke-linejoin="miter"/>
<path d="M972.10 1001.60L948.10 989.60L948.10 1013.60Z" fill="#9467bd" stroke="#fff" stroke-width="1.92" stroke-linejoin="miter"/>
<path d="M1051.25 977.60L1027.25 965.60L1027.25 989.60Z" fill="#9467bd" stroke="#fff" stroke-width="1.92" stroke-linejoin="miter"/>
<path d="M1032.30 923.00L1008.30 911.00L1008.30 935.00Z" fill="#9467bd" stroke="#fff" stroke-width="1.92" stroke-linejoin="miter"/>
<path d="M1030.30 923.50L1006.30 911.50L1006.30 935.50Z" fill="#9467bd" stroke="#fff" stroke-width="1.92" stroke-linejoin="miter"/>
<path d="M1054.00 875.00L1030.00 863.00L1030.00 887.00Z" fill="#9467bd" stroke="#fff" stroke-width="1.92" stroke-linejoin="miter"/>
<path d="M1076.25 895.30L1052.25 883.30L1052.25 907.30Z" fill="#9467bd" stroke="#fff" stroke-width="1.92" stroke-linejoin="miter"/>
<path d="M1101.05 896.40L1077.05 884.40L1077.05 908.40Z" fill="#9467bd" stroke="#fff" stroke-width="1.92" stroke-linejoin="miter"/>
<path d="M911.10 883.10L887.10 871.10L887.10 895.10Z" fill="#9467bd" stroke="#fff" stroke-width="1.92" stroke-linejoin="miter"/>
<path d="M1013.00 821.50L1019.00 827.50L1025.00 821.50L1031.00 827.50L1025.00 833.50L1031.00 839.50L1025.00 845.50L1019.00 839.50L1013.00 845.50L1007.00 839.50L1013.00 833.50L1007.00 827.50Z" fill="#bcbd22" stroke="#fff" stroke-width="1.92" stroke-linejoin="miter"/>
<path d="M1171.60 785.60L1177.60 791.60L1183.60 785.60L1189.60 791.60L1183.60 797.60L1189.60 803.60L1183.60 809.60L1177.60 803.60L1171.60 809.60L1165.60 803.60L1171.60 797.60L1165.60 791.60Z" fill="#bcbd22" stroke="#fff" stroke-width="1.92" stroke-linejoin="miter"/>
<line x1="596.4" y1="1300.0" x2="1179.8" y2="716.4" stroke="#1f77b4" stroke-width="6"/>
</g>
<rect x="569.9" y="688.0" width="636.65" height="670.90" fill="none" stroke="#000" stroke-width="3.8"/>
<line x1="555.90" x2="569.9" y1="1356.30" y2="1356.30" stroke="#000" stroke-width="3.8"/>
<text x="541.0" y="1372.30" font-size="40" text-anchor="end">0</text>
<line x1="555.90" x2="569.9" y1="1261.55" y2="1261.55" stroke="#000" stroke-width="3.8"/>
<text x="541.0" y="1277.55" font-size="40" text-anchor="end">500</text>
<line x1="555.90" x2="569.9" y1="1166.80" y2="1166.80" stroke="#000" stroke-width="3.8"/>
<text x="541.0" y="1182.20" font-size="40" text-anchor="end">1000</text>
<line x1="555.90" x2="569.9" y1="1072.05" y2="1072.05" stroke="#000" stroke-width="3.8"/>
<text x="541.0" y="1087.15" font-size="40" text-anchor="end">1500</text>
<line x1="555.90" x2="569.9" y1="977.30" y2="977.30" stroke="#000" stroke-width="3.8"/>
<text x="541.0" y="993.00" font-size="40" text-anchor="end">2000</text>
<line x1="555.90" x2="569.9" y1="882.55" y2="882.55" stroke="#000" stroke-width="3.8"/>
<text x="541.0" y="898.25" font-size="40" text-anchor="end">2500</text>
<line x1="555.90" x2="569.9" y1="787.80" y2="787.80" stroke="#000" stroke-width="3.8"/>
<text x="541.0" y="802.50" font-size="40" text-anchor="end">3000</text>
<line x1="555.90" x2="569.9" y1="693.05" y2="693.05" stroke="#000" stroke-width="3.8"/>
<text x="541.0" y="707.75" font-size="40" text-anchor="end">3500</text>
<line x1="729.70" x2="729.70" y1="1358.9" y2="1372.90" stroke="#000" stroke-width="3.8"/>
<text x="729.70" y="1417.8" font-size="40" text-anchor="middle">1000</text>
<line x1="919.20" x2="919.20" y1="1358.9" y2="1372.90" stroke="#000" stroke-width="3.8"/>
<text x="919.20" y="1417.8" font-size="40" text-anchor="middle">2000</text>
<line x1="1108.70" x2="1108.70" y1="1358.9" y2="1372.90" stroke="#000" stroke-width="3.8"/>
<text x="1108.70" y="1417.8" font-size="40" text-anchor="middle">3000</text>
<text x="888.6" y="1473.0" font-size="40" text-anchor="middle" textLength="373.2" lengthAdjust="spacing">MD strength [MPa]</text>
<text transform="translate(413.8 1023.4) rotate(-90)" font-size="40" text-anchor="middle" textLength="500" lengthAdjust="spacing">predicted strength [MPa]</text>
<text x="1174.3" y="1260.9" font-size="40" text-anchor="end" textLength="166.2" lengthAdjust="spacing">N = 153</text>
<text x="1174.3" y="1306.0" font-size="40" text-anchor="end" textLength="313.8" lengthAdjust="spacing">RMSE = 202.21</text>
<text x="1174.3" y="1351.0" font-size="40" text-anchor="end" textLength="396.1" lengthAdjust="spacing">Adjusted r² = 0.877</text>
<rect x="1226.9" y="708.5" width="198.7" height="544.7" rx="7.5" ry="7.5" fill="#fff" stroke="#d6d6d6" stroke-width="4"/>
<circle cx="1283.30" cy="744.60" r="12.00" fill="#1f77b4" stroke="#1f77b4" stroke-width="4.0"/>
<text x="1356.2" y="755.50" font-size="40">Ag</text>
<path d="M1283.30 791.80L1271.30 815.80L1295.30 815.80Z" fill="#ff7f0e" stroke="#ff7f0e" stroke-width="4.0" stroke-linejoin="round"/>
<text x="1356.2" y="814.70" font-size="40">Al</text>
<path d="M1283.30 875.00L1271.30 851.00L1295.30 851.00Z" fill="#2ca02c" stroke="#2ca02c" stroke-width="4.0" stroke-linejoin="round"/>
<text x="1356.2" y="873.90" font-size="40">Au</text>
<path d="M1271.30 922.20L1295.30 910.20L1295.30 934.20Z" fill="#d62728" stroke="#d62728" stroke-width="4.0" stroke-linejoin="round"/>
<text x="1356.2" y="933.10" font-size="40">Cu</text>
<path d="M1295.30 981.40L1271.30 969.40L1271.30 993.40Z" fill="#9467bd" stroke="#9467bd" stroke-width="4.0" stroke-linejoin="round"/>
<text x="1356.2" y="992.30" font-size="40">Ni</text>
<path d="M1271.30 1028.60L1295.30 1028.60L1295.30 1052.60L1271.30 1052.60Z" fill="#8c564b" stroke="#8c564b" stroke-width="4.0" stroke-linejoin="round"/>
<text x="1356.2" y="1051.50" font-size="40">Pb</text>
<path d="M1283.30 1082.83L1300.27 1099.80L1283.30 1116.77L1266.33 1099.80Z" fill="#e377c2" stroke="#e377c2" stroke-width="4.0" stroke-linejoin="round"/>
<text x="1356.2" y="1110.70" font-size="40">Pd</text>
<path d="M1283.30 1147.00L1294.71 1155.29L1290.35 1168.71L1276.25 1168.71L1271.89 1155.29Z" fill="#7f7f7f" stroke="#7f7f7f" stroke-width="4.0" stroke-linejoin="round"/>
<text x="1356.2" y="1169.90" font-size="40">Pt</text>
<path d="M1277.30 1206.20L1283.30 1212.20L1289.30 1206.20L1295.30 1212.20L1289.30 1218.20L1295.30 1224.20L1289.30 1230.20L1283.30 1224.20L1277.30 1230.20L1271.30 1224.20L1277.30 1218.20L1271.30 1212.20Z" fill="#bcbd22" stroke="#bcbd22" stroke-width="4.0" stroke-linejoin="round"/>
<text x="1356.2" y="1229.10" font-size="40">Rh</text>
</svg>
</body></html>
